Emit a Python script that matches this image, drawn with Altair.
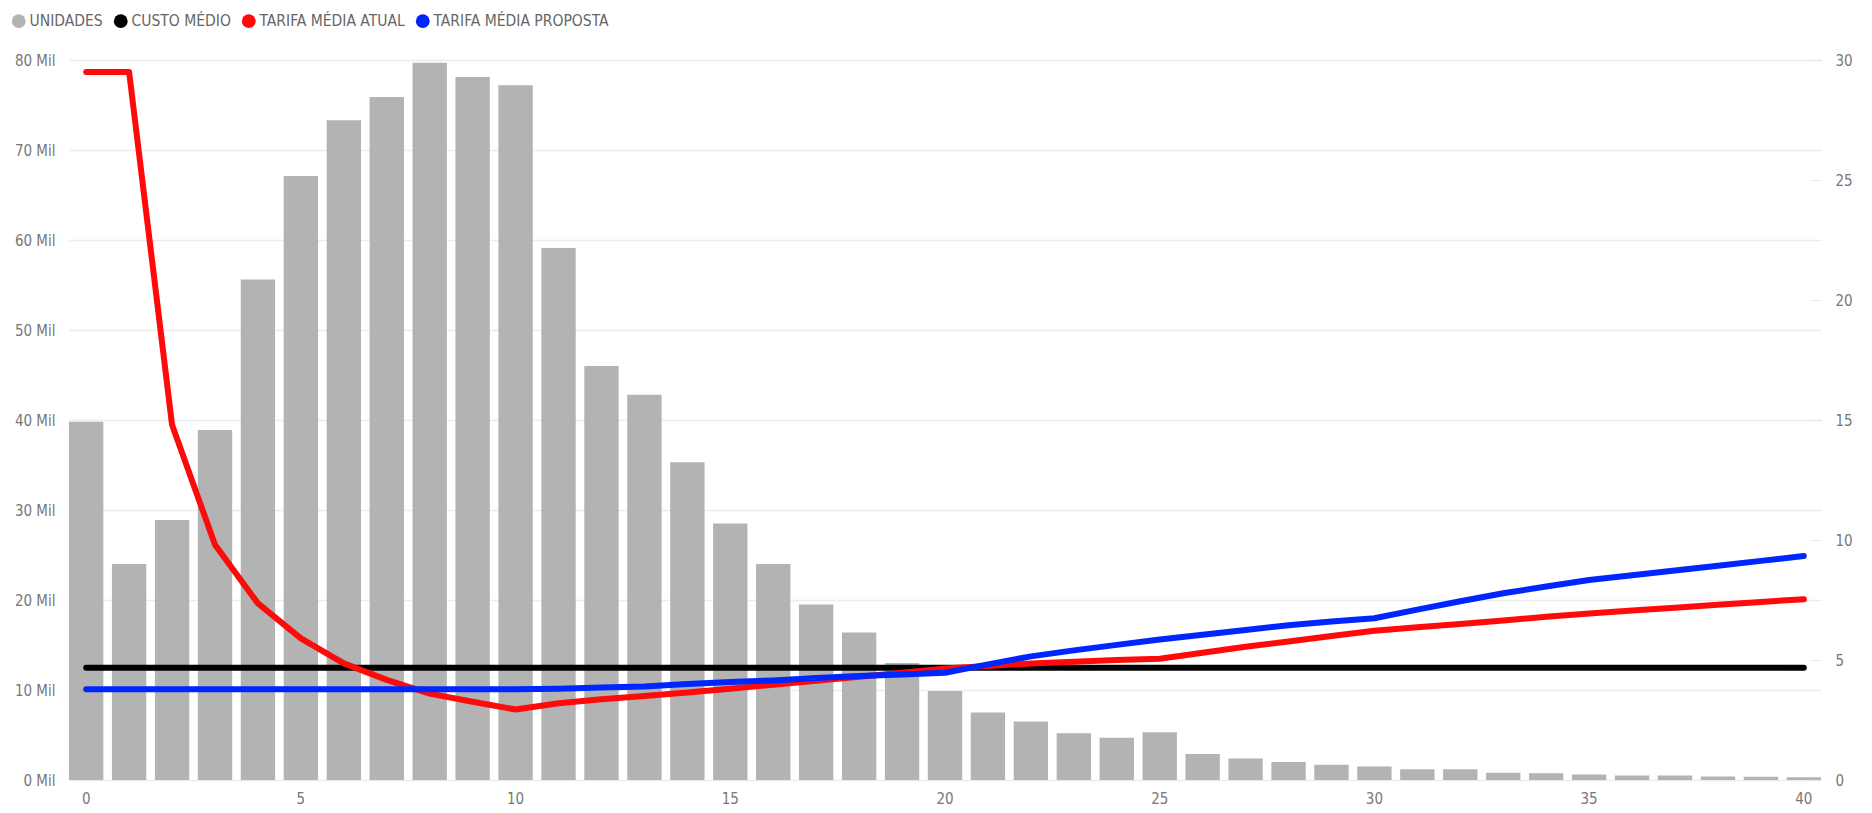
import altair as alt
import pandas as pd

# ---- data ----
categorias = list(range(41))

unidades_mil = [39.8, 24.0, 28.9, 38.9, 55.6, 67.1, 73.3, 75.9, 79.7, 78.1,
                77.2, 59.1, 46.0, 42.8, 35.3, 28.5, 24.0, 19.5, 16.4, 13.0,
                9.9, 7.5, 6.5, 5.2, 4.7, 5.3, 2.9, 2.4, 2.0, 1.7,
                1.5, 1.2, 1.2, 0.8, 0.75, 0.6, 0.5, 0.5, 0.4, 0.35, 0.3]

custo_medio = [4.68] * 41

tarifa_atual = [29.5, 29.5, 14.8, 9.8, 7.36, 5.9, 4.86, 4.17, 3.6, 3.26,
                2.94, 3.2, 3.36, 3.5, 3.65, 3.8, 3.97, 4.13, 4.3, 4.47,
                4.65, 4.75, 4.85, 4.93, 5.0, 5.05, 5.3, 5.55, 5.77, 6.0,
                6.22, 6.36, 6.5, 6.65, 6.8, 6.94, 7.06, 7.18, 7.3, 7.42, 7.53]

tarifa_proposta = [3.78, 3.78, 3.78, 3.78, 3.78, 3.78, 3.78, 3.78, 3.78, 3.78,
                   3.78, 3.8, 3.85, 3.9, 4.0, 4.08, 4.15, 4.25, 4.33, 4.4,
                   4.47, 4.82, 5.15, 5.4, 5.63, 5.85, 6.05, 6.25, 6.45, 6.6,
                   6.74, 7.1, 7.45, 7.78, 8.06, 8.33, 8.53, 8.73, 8.93, 9.13, 9.33]

series_nomes = ["UNIDADES", "CUSTO MÉDIO", "TARIFA MÉDIA ATUAL", "TARIFA MÉDIA PROPOSTA"]
series_cores = ["#b3b3b3", "#000000", "#ff0a0a", "#0026ff"]

y_left_ticks = [0, 10, 20, 30, 40, 50, 60, 70, 80]
y_right_ticks = [0, 5, 10, 15, 20, 25, 30]
x_ticks = [0, 5, 10, 15, 20, 25, 30, 35, 40]

# ---- tables ----
bars_df = pd.DataFrame({"x": categorias, "v": unidades_mil, "serie": "UNIDADES"})
lines_df = pd.concat([
    pd.DataFrame({"x": categorias, "v": custo_medio, "serie": "CUSTO MÉDIO"}),
    pd.DataFrame({"x": categorias, "v": tarifa_atual, "serie": "TARIFA MÉDIA ATUAL"}),
    pd.DataFrame({"x": categorias, "v": tarifa_proposta, "serie": "TARIFA MÉDIA PROPOSTA"}),
], ignore_index=True)

FONT = "DejaVu Sans Condensed, Roboto, sans-serif"
LABEL_COLOR = "#777777"
FS = 15

color_scale = alt.Scale(domain=series_nomes, range=series_cores)
legend = alt.Legend(
    title=None, orient="none", legendX=-58, legendY=-47, direction="horizontal",
    symbolType="circle", symbolSize=190, symbolStrokeWidth=0,
    labelFontSize=15.5, labelColor="#666666", labelFont=FONT, labelLimit=500,
    columnPadding=10, labelOffset=3, padding=0,
)

x_enc = alt.X("x:O", scale=alt.Scale(paddingInner=0.2, paddingOuter=0),
              axis=alt.Axis(values=x_ticks, labelAngle=0, ticks=False, tickSize=0,
                            domain=False, title=None, labelPadding=11,
                            labelFontSize=FS, labelColor=LABEL_COLOR, labelFont=FONT))

bars = alt.Chart(bars_df).mark_bar(color="#b3b3b3").encode(
    x=x_enc,
    y=alt.Y("v:Q", scale=alt.Scale(domain=[0, 80], nice=False),
            axis=alt.Axis(values=y_left_ticks, labelExpr="datum.value + ' Mil'",
                          title=None, domain=False, ticks=False, labelPadding=14,
                          gridColor="#ececec", gridWidth=1.5,
                          labelFontSize=FS, labelColor=LABEL_COLOR, labelFont=FONT)),
    color=alt.Color("serie:N", scale=color_scale, legend=legend),
)

def line_layer(nome):
    return alt.Chart(lines_df).transform_filter(alt.datum.serie == nome).mark_line(
        strokeWidth=6, strokeCap="round", strokeJoin="round"
    ).encode(
        x=alt.X("x:O"),
        y=alt.Y("v:Q", scale=alt.Scale(domain=[0, 30], nice=False),
                axis=alt.Axis(values=y_right_ticks, orient="right", title=None,
                              domain=False, grid=False, ticks=True, tickSize=10,
                              tickColor="#e6e6e6", offset=-10, labelPadding=14,
                              labelFontSize=FS, labelColor=LABEL_COLOR, labelFont=FONT)),
        color=alt.Color("serie:N", scale=color_scale, legend=None),
    )

lines = alt.layer(line_layer("CUSTO MÉDIO"), line_layer("TARIFA MÉDIA ATUAL"),
                  line_layer("TARIFA MÉDIA PROPOSTA"))

chart = alt.layer(bars, lines).resolve_scale(y="independent").properties(
    width=1752, height=720,
    padding={"left": 69, "top": 60, "right": 51, "bottom": 33},
    autosize=alt.AutoSizeParams(type="none"),
    background="white",
).configure_view(stroke=None)

chart.save("out.html", embed_options={"renderer": "svg", "actions": False})
